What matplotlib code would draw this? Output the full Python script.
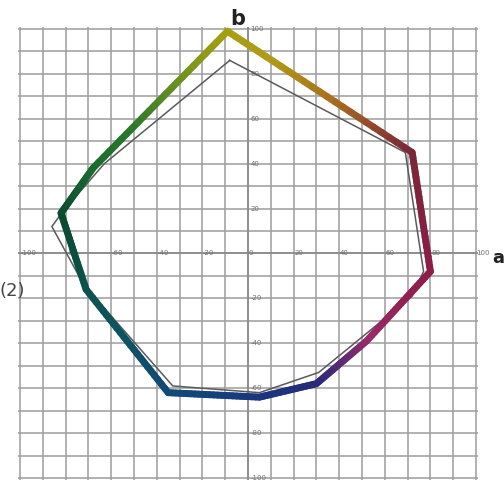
import numpy as np
import matplotlib
matplotlib.use("Agg")
import matplotlib.pyplot as plt
from matplotlib.collections import LineCollection
from matplotlib.colors import to_rgb

# ---- data (a*, b*) ----
thick_a = [-9, 72, 80, 52, 30, 5, -35, -71, -82, -68, -9]
thick_b = [99, 45, -8, -39, -58, -64, -62, -16, 18, 38, 99]

thin_a = [-8, 69, 77, 72, 31, 5, -33, -72, -86, -81, -63, -8]
thin_b = [86, 45, -8, -19, -53, -62, -59, -14, 12, 19, 40, 86]

x_tick_vals = [-100, -80, -60, -40, -20, 0, 20, 40, 60, 80, 100]
x_tick_labels = ["-100", "-80", "-60", "-40", "-20", "0", "20", "40", "60", "80", "100"]
y_tick_vals = [100, 80, 60, 40, 20, -20, -40, -60, -80, -100]
y_tick_labels = ["100", "80", "60", "40", "20", "-20", "-40", "-60", "-80", "-100"]

# hue-angle colour anchors for the gamut line
hue_deg = [-180, -153, -120, -85, -63, -51, -37, -6, 32, 59, 83, 95, 111, 131, 151, 168, 180]
hue_col = ["#0a5040", "#0d5560", "#104a78", "#1a3580", "#2a2a78", "#5a2a78", "#9a2a6a",
           "#8c1c48", "#7a2838", "#a86a20", "#b09a18", "#a89f10", "#6a9020", "#2a7a28",
           "#1a6a30", "#0c4a30", "#0a5040"]

def hue_color(ang):
    rgb = np.array([to_rgb(c) for c in hue_col])
    return np.stack([np.interp(ang, hue_deg, rgb[:, k]) for k in range(3)], axis=-1)

fig = plt.figure(figsize=(5.04, 4.86), dpi=100)
ax = fig.add_axes([0.0351, 0.0119, 0.9139, 0.9331])
ax.set_xlim(-101, 101)
ax.set_ylim(-101, 101)
for s in ax.spines.values():
    s.set_visible(False)
ax.set_xticks([])
ax.set_yticks([])

grid_vals = np.arange(-100, 101, 10)
for g in grid_vals:
    ax.axvline(g, color="#a0a0a0", lw=1.15, zorder=1)
    ax.axhline(g, color="#a0a0a0", lw=1.15, zorder=1)
ax.axvline(0, color="#8a8a8a", lw=1.2, zorder=1)
ax.axhline(0, color="#8a8a8a", lw=1.2, zorder=1)

for v, t in zip(x_tick_vals, x_tick_labels):
    ax.text(v + 0.3, 0.2, t, fontsize=5, color="#707070", ha="left", va="center", zorder=2)
for v, t in zip(y_tick_vals, y_tick_labels):
    ax.text(1.0, v, t, fontsize=5, color="#707070", ha="left", va="center", zorder=2)

# thin gray line
ax.plot(thin_a, thin_b, color="#5a5a5a", lw=1.1, zorder=3, solid_joinstyle="miter")

# thick gradient line (each data edge shaded along its length)
segs, cols = [], []
for i in range(len(thick_a) - 1):
    xa = np.linspace(thick_a[i], thick_a[i + 1], 25)
    yb = np.linspace(thick_b[i], thick_b[i + 1], 25)
    for j in range(24):
        segs.append([(xa[j], yb[j]), (xa[j + 1], yb[j + 1])])
        mx, my = (xa[j] + xa[j + 1]) / 2, (yb[j] + yb[j + 1]) / 2
        cols.append(hue_color(np.degrees(np.arctan2(my, mx))))
lc = LineCollection(segs, colors=cols, linewidths=5.0, capstyle="round", joinstyle="round", zorder=4)
ax.add_collection(lc)

ax.text(109.8, -2, "a", fontsize=13, fontweight="bold", color="#222222", ha="center", va="center")
ax.text(-4.5, 104.5, "b", fontsize=15, fontweight="bold", color="#222222", ha="center", va="center")
ax.text(-103.5, -16.5, "(2)", fontsize=13, color="#444444", ha="center", va="center")

fig.savefig("out.png", dpi=100)
